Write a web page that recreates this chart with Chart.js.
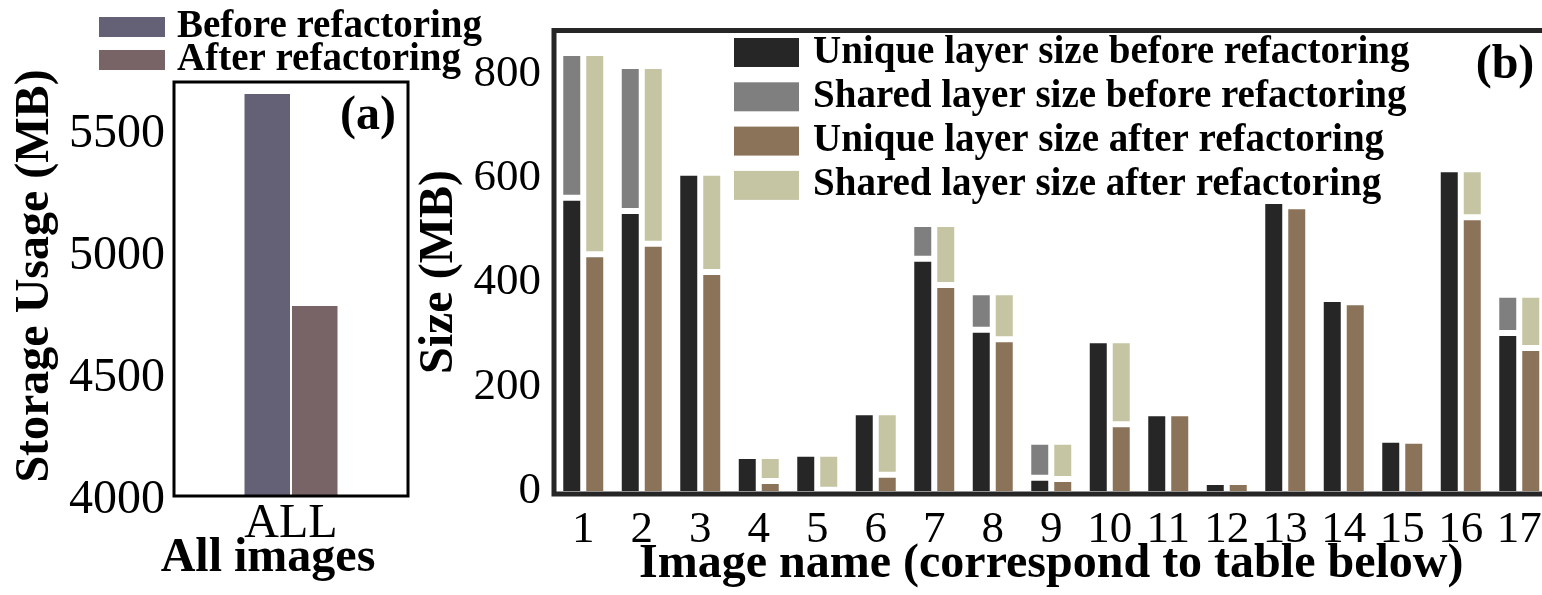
<!DOCTYPE html>
<html>
<head>
<meta charset="utf-8">
<script src="https://cdn.jsdelivr.net/npm/chart.js@4.4.1/dist/chart.umd.min.js"></script>
<style>
  html, body { margin: 0; padding: 0; width: 1542px; height: 595px; overflow: hidden; background: #fff; }
  canvas { position: absolute; top: 0; }
  #totalChart { left: 0; }
  #layerChart { left: 390px; }
</style>
</head>
<body>
<canvas id="totalChart" width="490" height="595"></canvas>
<canvas id="layerChart" width="1170" height="595"></canvas>
<script>
// (a) storage used by all images together, MB
const totalCategories = ['ALL'];
const totalBefore = [5655];
const totalAfter = [4784];
const storageTicks = [4000, 4500, 5000, 5500];

// (b) layer sizes per image, MB
const imageNames = ['1', '2', '3', '4', '5', '6', '7', '8', '9', '10', '11', '12', '13', '14', '15', '16', '17'];
const uniqueBefore = [568, 543, 616, 73, 77, 157, 451, 315, 31, 295, 155, 23, 562, 374, 104, 623, 309];
const sharedBefore = [278, 278, 0, 0, 0, 0, 67, 72, 69, 0, 0, 0, 0, 0, 0, 0, 73];
const uniqueAfter  = [460, 480, 426, 25, 8, 37, 401, 297, 29, 134, 155, 23, 552, 368, 102, 531, 280];
const sharedAfter  = [386, 341, 190, 48, 69, 120, 117, 90, 71, 161, 0, 0, 0, 0, 0, 92, 102];
const sizeTicks = [0, 200, 400, 600, 800];

const SERIF = "'Liberation Serif', 'Times New Roman', Times, serif";

// box around the plotting area
function framePlugin(color, width) {
  return {
    id: 'frame',
    afterDatasetsDraw(chart) {
      const { ctx, chartArea: a } = chart;
      ctx.save();
      ctx.strokeStyle = color;
      ctx.lineWidth = width;
      ctx.strokeRect(a.left, a.top, a.right - a.left, a.bottom - a.top);
      ctx.restore();
    }
  };
}

// legend: one colour box + label per dataset, stacked vertically
function legendPlugin(cfg) {
  return {
    id: 'boxLegend',
    afterDraw(chart) {
      const ctx = chart.ctx;
      ctx.save();
      ctx.font = `bold ${cfg.size}px ${SERIF}`;
      ctx.textAlign = 'left';
      ctx.textBaseline = 'middle';
      chart.data.datasets.forEach((ds, i) => {
        const y = cfg.y + i * cfg.pitch;
        ctx.fillStyle = ds.backgroundColor;
        ctx.fillRect(cfg.x, y, cfg.boxW, cfg.boxH);
        ctx.fillStyle = '#000';
        ctx.fillText(ds.label, cfg.textX, y + cfg.boxH / 2);
      });
      ctx.restore();
    }
  };
}

// free-standing captions (axis titles, panel tags)
function textPlugin(items) {
  return {
    id: 'textMarks',
    afterDraw(chart) {
      const ctx = chart.ctx;
      items.forEach(it => {
        ctx.save();
        ctx.translate(it.x, it.y);
        if (it.rotation) ctx.rotate(it.rotation * Math.PI / 180);
        ctx.font = `bold ${it.size}px ${SERIF}`;
        ctx.fillStyle = '#000';
        ctx.textAlign = 'center';
        ctx.textBaseline = 'middle';
        ctx.fillText(it.text, 0, 0);
        ctx.restore();
      });
    }
  };
}

const noGrid = { display: false, drawTicks: false, tickLength: 0 };
const plain = v => String(v);

// fixed axis box sizes, no extra room reserved for edge labels
const fixHeight = h => s => { s.height = h; s.paddingLeft = 0; s.paddingRight = 0; s.paddingTop = 0; s.paddingBottom = 0; };
const fixWidth = w => s => { s.width = w; s.paddingLeft = 0; s.paddingRight = 0; s.paddingTop = 0; s.paddingBottom = 0; };

// ---------- (a) ----------
new Chart(document.getElementById('totalChart'), {
  type: 'bar',
  data: {
    labels: totalCategories,
    datasets: [
      { label: 'Before refactoring', data: totalBefore, backgroundColor: '#646177',
        borderColor: '#ffffff', borderWidth: 1, borderSkipped: false },
      { label: 'After refactoring', data: totalAfter, backgroundColor: '#786366',
        borderColor: '#ffffff', borderWidth: 1, borderSkipped: false }
    ]
  },
  options: {
    responsive: false,
    animation: false,
    devicePixelRatio: 1,
    layout: { padding: { left: 0, right: 82, top: 82, bottom: 0 } },
    datasets: { bar: { categoryPercentage: 0.406, barPercentage: 1 } },
    plugins: { legend: { display: false }, tooltip: { enabled: false } },
    scales: {
      x: {
        grid: noGrid,
        border: { display: false },
        ticks: { color: '#000', font: { family: SERIF, size: 48 }, padding: 0 },
        afterFit: fixHeight(99)
      },
      y: {
        min: 4000,
        max: 5700,
        afterBuildTicks: s => { s.ticks = storageTicks.map(v => ({ value: v })); },
        grid: noGrid,
        border: { display: false },
        ticks: { color: '#000', font: { family: SERIF, size: 48 }, padding: 9, labelOffset: 4, callback: plain },
        afterFit: fixWidth(174)
      }
    }
  },
  plugins: [
    framePlugin('#000000', 3),
    legendPlugin({ x: 99, y: 17, pitch: 33, boxW: 66, boxH: 20, textX: 177, size: 39 }),
    textPlugin([
      { text: 'Storage Usage (MB)', x: 36, y: 276, rotation: -90, size: 48 },
      { text: 'All images', x: 268, y: 559, size: 48 },
      { text: '(a)', x: 368, y: 117, size: 48 }
    ])
  ]
});

// ---------- (b) ----------
const barStyle = { borderColor: '#ffffff', borderWidth: 3, borderSkipped: false };

new Chart(document.getElementById('layerChart'), {
  type: 'bar',
  data: {
    labels: imageNames,
    datasets: [
      { label: 'Unique layer size before refactoring', data: uniqueBefore, stack: 'before',
        backgroundColor: '#262626', ...barStyle },
      { label: 'Shared layer size before refactoring', data: sharedBefore, stack: 'before',
        backgroundColor: '#7f7f7f', ...barStyle },
      { label: 'Unique layer size after refactoring', data: uniqueAfter, stack: 'after',
        backgroundColor: '#8b7359', ...barStyle },
      { label: 'Shared layer size after refactoring', data: sharedAfter, stack: 'after',
        backgroundColor: '#c5c5a3', ...barStyle }
    ]
  },
  options: {
    responsive: false,
    animation: false,
    devicePixelRatio: 1,
    layout: { padding: { left: 0, right: 11.5, top: 30.5, bottom: 0 } },
    datasets: { bar: { categoryPercentage: 0.786, barPercentage: 1 } },
    plugins: { legend: { display: false }, tooltip: { enabled: false } },
    scales: {
      x: {
        stacked: true,
        grid: noGrid,
        border: { display: false },
        ticks: { color: '#000', font: { family: SERIF, size: 45 }, padding: 9, maxRotation: 0, autoSkip: false },
        title: {
          display: true,
          text: 'Image name (correspond to table below)',
          color: '#000',
          font: { family: SERIF, size: 48, weight: 'bold' },
          padding: { top: 0, bottom: 2 }
        },
        afterFit: fixHeight(101)
      },
      y: {
        stacked: true,
        min: 0,
        max: 889,
        afterBuildTicks: s => { s.ticks = sizeTicks.map(v => ({ value: v })); },
        grid: noGrid,
        border: { display: false },
        ticks: { color: '#000', font: { family: SERIF, size: 45 }, padding: 13, labelOffset: -3, callback: plain },
        afterFit: fixWidth(164)
      }
    }
  },
  plugins: [
    framePlugin('#262626', 5),
    legendPlugin({ x: 344, y: 38, pitch: 44.3, boxW: 65, boxH: 29, textX: 423, size: 39 }),
    textPlugin([
      { text: 'Size (MB)', x: 50, y: 272, rotation: -90, size: 48 },
      { text: '(b)', x: 1115, y: 66, size: 48 }
    ])
  ]
});
</script>
</body>
</html>
